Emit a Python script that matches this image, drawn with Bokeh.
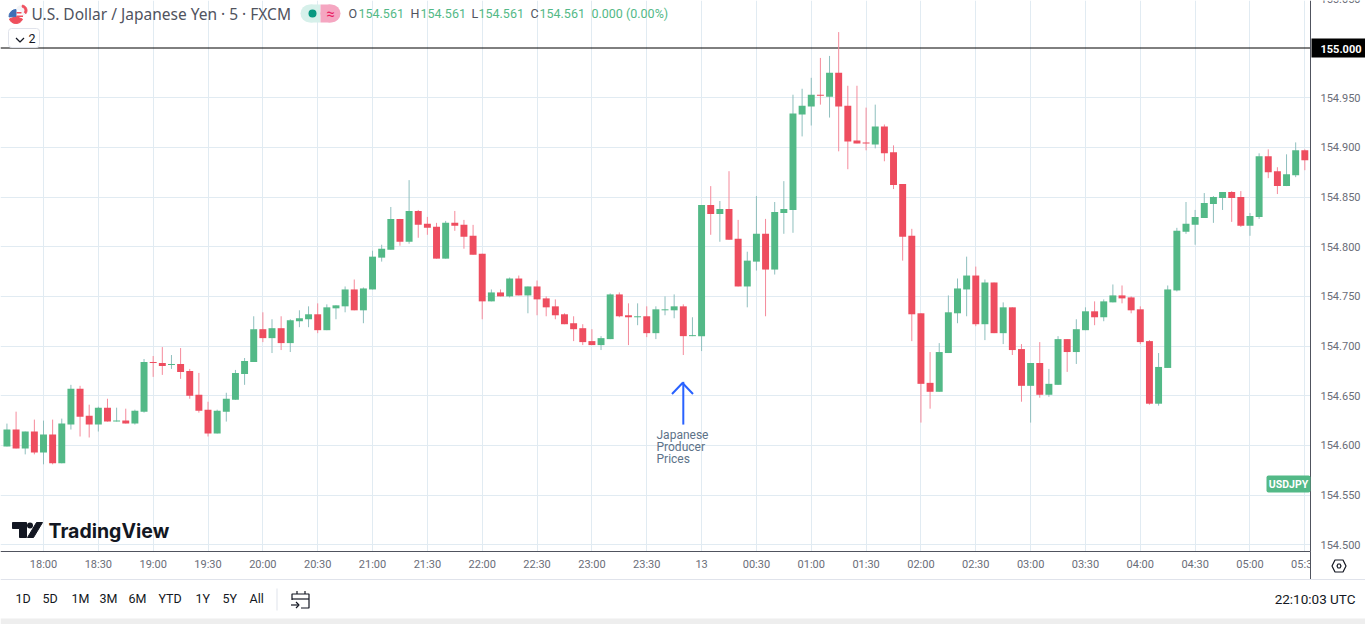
from bokeh.plotting import figure
from bokeh.embed import file_html
from bokeh.resources import INLINE
from bokeh.models import Arrow, BoxAnnotation, FixedTicker, Grid, Label, LinearAxis, PolyAnnotation, Range1d

# 5 minute USD/JPY candles, 0 is the 18:00 bar
bars = list(range(-4, 139))
opens = [154.599, 154.616, 154.597, 154.614, 154.593, 154.611, 154.582, 154.621, 154.657, 154.630, 154.621, 154.638, 154.624, 154.625, 154.622,
         154.634, 154.684, 154.683, 154.681, 154.682, 154.675, 154.651, 154.636, 154.612, 154.634, 154.646, 154.672, 154.684, 154.717, 154.708,
         154.718, 154.703, 154.725, 154.727, 154.732, 154.716, 154.738, 154.740, 154.757, 154.736, 154.757, 154.789, 154.797, 154.828, 154.805,
         154.836, 154.823, 154.820, 154.788, 154.824, 154.822, 154.811, 154.793, 154.745, 154.754, 154.750, 154.768, 154.751, 154.760, 154.748,
         154.740, 154.732, 154.723, 154.718, 154.705, 154.701, 154.707, 154.752, 154.731, 154.729, 154.730, 154.713, 154.736, 154.736, 154.740,
         154.710, 154.710, 154.842, 154.833, 154.838, 154.808, 154.760, 154.785, 154.813, 154.777, 154.834, 154.837, 154.933, 154.941, 154.953,
         154.951, 154.975, 154.942, 154.907, 154.905, 154.903, 154.921, 154.895, 154.863, 154.811, 154.733, 154.663, 154.654, 154.693, 154.733,
         154.757, 154.771, 154.722, 154.764, 154.713, 154.739, 154.697, 154.660, 154.683, 154.651, 154.661, 154.707, 154.694, 154.716, 154.735,
         154.729, 154.744, 154.751, 154.749, 154.737, 154.705, 154.642, 154.678, 154.756, 154.815, 154.822, 154.829, 154.843, 154.849, 154.855,
         154.850, 154.821, 154.830, 154.891, 154.876, 154.861, 154.872, 154.897]
highs = [154.622, 154.634, 154.614, 154.626, 154.625, 154.626, 154.627, 154.661, 154.660, 154.641, 154.639, 154.647, 154.638, 154.637, 154.636,
         154.687, 154.690, 154.699, 154.691, 154.698, 154.677, 154.673, 154.644, 154.636, 154.653, 154.676, 154.688, 154.730, 154.734, 154.727,
         154.730, 154.727, 154.736, 154.740, 154.743, 154.742, 154.741, 154.760, 154.767, 154.759, 154.796, 154.802, 154.840, 154.828, 154.867,
         154.837, 154.830, 154.824, 154.826, 154.836, 154.827, 154.822, 154.793, 154.757, 154.757, 154.769, 154.771, 154.760, 154.766, 154.750,
         154.747, 154.733, 154.730, 154.722, 154.717, 154.710, 154.753, 154.754, 154.743, 154.743, 154.740, 154.740, 154.750, 154.752, 154.742,
         154.729, 154.842, 154.861, 154.846, 154.876, 154.827, 154.795, 154.851, 154.828, 154.845, 154.866, 154.953, 154.959, 154.970, 154.990,
         154.992, 155.016, 154.962, 154.962, 154.940, 154.943, 154.923, 154.902, 154.863, 154.818, 154.733, 154.694, 154.703, 154.751, 154.768,
         154.790, 154.780, 154.767, 154.764, 154.744, 154.739, 154.702, 154.683, 154.704, 154.677, 154.710, 154.707, 154.727, 154.739, 154.745,
         154.747, 154.762, 154.761, 154.750, 154.740, 154.706, 154.693, 154.761, 154.819, 154.845, 154.837, 154.854, 154.851, 154.855, 154.856,
         154.856, 154.834, 154.894, 154.898, 154.880, 154.893, 154.905, 154.898]
lows = [154.599, 154.597, 154.591, 154.591, 154.581, 154.581, 154.582, 154.616, 154.609, 154.608, 154.614, 154.624, 154.624, 154.622, 154.621,
        154.633, 154.669, 154.671, 154.677, 154.667, 154.647, 154.633, 154.609, 154.612, 154.624, 154.646, 154.661, 154.684, 154.704, 154.693,
        154.696, 154.694, 154.719, 154.719, 154.713, 154.716, 154.727, 154.734, 154.736, 154.723, 154.757, 154.785, 154.797, 154.801, 154.803,
        154.809, 154.812, 154.788, 154.788, 154.816, 154.798, 154.792, 154.727, 154.745, 154.750, 154.749, 154.751, 154.733, 154.731, 154.730,
        154.727, 154.722, 154.705, 154.701, 154.701, 154.696, 154.707, 154.729, 154.701, 154.721, 154.709, 154.707, 154.731, 154.728, 154.691,
        154.710, 154.695, 154.812, 154.805, 154.807, 154.760, 154.739, 154.776, 154.730, 154.772, 154.813, 154.814, 154.911, 154.922, 154.943,
        154.930, 154.896, 154.878, 154.904, 154.897, 154.899, 154.886, 154.858, 154.786, 154.705, 154.623, 154.637, 154.654, 154.693, 154.723,
        154.730, 154.720, 154.706, 154.713, 154.702, 154.691, 154.644, 154.623, 154.648, 154.649, 154.661, 154.674, 154.682, 154.716, 154.721,
        154.725, 154.744, 154.743, 154.733, 154.702, 154.641, 154.640, 154.678, 154.755, 154.813, 154.802, 154.829, 154.824, 154.837, 154.825,
        154.820, 154.811, 154.828, 154.869, 154.853, 154.861, 154.870, 154.877]
closes = [154.616, 154.597, 154.614, 154.593, 154.611, 154.582, 154.622, 154.657, 154.629, 154.621, 154.638, 154.624, 154.625, 154.622, 154.635,
          154.684, 154.683, 154.680, 154.682, 154.674, 154.650, 154.635, 154.612, 154.635, 154.647, 154.673, 154.685, 154.717, 154.708, 154.718,
          154.703, 154.726, 154.728, 154.732, 154.716, 154.739, 154.741, 154.757, 154.736, 154.758, 154.790, 154.798, 154.828, 154.805, 154.836,
          154.822, 154.819, 154.788, 154.824, 154.821, 154.810, 154.792, 154.745, 154.754, 154.750, 154.768, 154.751, 154.760, 154.747, 154.739,
          154.731, 154.722, 154.717, 154.704, 154.701, 154.708, 154.752, 154.730, 154.729, 154.730, 154.713, 154.737, 154.737, 154.740, 154.710,
          154.711, 154.842, 154.833, 154.838, 154.807, 154.760, 154.786, 154.813, 154.777, 154.835, 154.838, 154.934, 154.942, 154.953, 154.952,
          154.975, 154.941, 154.906, 154.904, 154.904, 154.921, 154.894, 154.862, 154.810, 154.732, 154.662, 154.654, 154.694, 154.734, 154.758,
          154.771, 154.722, 154.764, 154.713, 154.739, 154.696, 154.660, 154.683, 154.651, 154.662, 154.707, 154.694, 154.717, 154.735, 154.729,
          154.745, 154.751, 154.748, 154.736, 154.704, 154.642, 154.679, 154.757, 154.816, 154.823, 154.830, 154.844, 154.850, 154.855, 154.849,
          154.821, 154.831, 154.891, 154.875, 154.861, 154.873, 154.897, 154.887]

time_ticks = list(range(0, 139, 6))
time_labels = ["18:00", "18:30", "19:00", "19:30", "20:00", "20:30", "21:00", "21:30", "22:00", "22:30", "23:00", "23:30",
               "13", "00:30", "01:00", "01:30", "02:00", "02:30", "03:00", "03:30", "04:00", "04:30", "05:00", "05:30"]
price_ticks = [154.5, 154.55, 154.6, 154.65, 154.7, 154.75, 154.8, 154.85, 154.9, 154.95]
ranges = ["1D", "5D", "1M", "3M", "6M", "YTD", "1Y", "5Y", "All"]
range_x = [15, 42, 71, 99, 128, 158, 195, 222, 249]
level_price = 155.0

UP = "#53b987"
DOWN = "#ee4d5f"
UP_WICK = "#8fbfbe"
DOWN_WICK = "#f58a9b"
GRID = "#e1ebf2"
AXIS = "#50535e"
BLUE = "#2962ff"
FONT = "Roboto"
TITLE_FONT = "Noto Sans"

W, H = 1365, 624
PANE_R, PANE_B = 1310, 551  # where the price and time scales start
X0, X1 = -43 / 9.14, (W - 43) / 9.14
Y0, Y1 = 155 - (H - 47.5) / 993.6, 155 + 47.5 / 993.6


def dx(x):
    return X0 + x / W * (X1 - X0)


def dy(y):
    return Y0 + (H - y) / H * (Y1 - Y0)


# the frame fills the page, annotations outside it would get clipped
p = figure(width=W, height=H, frame_width=W, frame_height=H, x_range=Range1d(X0, X1), y_range=Range1d(Y0, Y1),
           x_axis_location=None, y_axis_location=None, output_backend="svg", toolbar_location=None,
           min_border=0)
p.outline_line_color = None
p.grid.visible = False
p.add_layout(Grid(dimension=0, ticker=FixedTicker(ticks=time_ticks), grid_line_color=GRID))
p.add_layout(Grid(dimension=1, ticker=FixedTicker(ticks=price_ticks), grid_line_color=GRID))


def box(x0, y0, x1, y1, fill, line=None, radius=0, level="annotation"):
    p.add_layout(BoxAnnotation(left=x0, right=x1, top=H - y0, bottom=H - y1,
                               left_units="screen", right_units="screen", top_units="screen", bottom_units="screen",
                               fill_color=fill, fill_alpha=1, line_color=line, line_alpha=1, border_radius=radius,
                               level=level))


# white panes under the scales, hide the grid ends
box(PANE_R, 0, W, H, "#ffffff", level="underlay")
box(0, PANE_B, W, H, "#ffffff", level="underlay")

xaxis = LinearAxis(fixed_location=dy(PANE_B), ticker=FixedTicker(ticks=time_ticks), bounds=(dx(0), dx(PANE_R)),
                   major_label_overrides=dict(zip(time_ticks, time_labels)), major_label_standoff=0)
yaxis = LinearAxis(fixed_location=dx(PANE_R), ticker=FixedTicker(ticks=price_ticks), bounds=(dy(PANE_B), dy(0)),
                   major_label_overrides={t: f"{t:.3f}" for t in price_ticks}, major_label_standoff=4)
for ax, side in ((xaxis, "below"), (yaxis, "right")):
    ax.axis_line_color = AXIS
    ax.major_tick_line_color = None
    ax.minor_tick_line_color = None
    ax.major_label_text_color = "#6a6d78"
    ax.major_label_text_font = FONT
    ax.major_label_text_font_size = "11px"
    p.add_layout(ax, side)

# the 155.000 level line, then the candles
p.segment([dx(0)], [level_price], [dx(PANE_R)], [level_price], line_color="black", line_width=1)
wick_colors = [UP_WICK if c >= o else DOWN_WICK for o, c in zip(opens, closes)]
body_colors = [UP if c >= o else DOWN for o, c in zip(opens, closes)]
p.segment(bars, highs, bars, lows, line_color=wick_colors, line_width=1)
p.vbar(x=bars, top=[max(a, b) for a, b in zip(opens, closes)], bottom=[min(a, b) for a, b in zip(opens, closes)],
       width=0.76, fill_color=body_colors, line_color=None)


def text(x, y, s, size=12.5, color="#131722", font=FONT, style="normal", align="left"):
    p.add_layout(Label(x=x, y=H - y, x_units="screen", y_units="screen", text=s, text_font=font,
                       text_font_size=f"{size}px", text_font_style=style, text_color=color, text_align=align,
                       text_baseline="middle"))


def stroke(points, color="#131722", closed=False, width=1.2):
    path = points if closed else points + points[-2:0:-1]
    p.add_layout(PolyAnnotation(xs=[a + 0.5 for a, b in path], ys=[H - b - 0.5 for a, b in path],
                                xs_units="screen", ys_units="screen", fill_alpha=0, line_color=color, line_alpha=1,
                                line_width=width))


# event note
p.add_layout(Arrow(end=None, x_start=70, y_start=154.621, x_end=70, y_end=154.664, line_color=BLUE, line_width=2))
stroke([(671, 393), (681.5, 382), (692, 393)], color=BLUE, width=2)
for yy, word in zip([434, 446, 458], ["Japanese", "Producer", "Prices"]):
    text(656, yy, word, size=12, color="#5d7288")

# legend row
p.scatter([dx(21)], [dy(10)], size=11, fill_color="#f3f4f7", line_color=None)
p.annular_wedge([dx(21)], [dy(10)], inner_radius=3.5, outer_radius=5.5, inner_radius_units="screen",
                outer_radius_units="screen", start_angle=-0.6, end_angle=1.4, color="#f0505f")
p.scatter([dx(15.5)], [dy(16)], size=14, fill_color="#ffffff", line_color=None)
p.wedge([dx(15.5)], [dy(16)], radius=7, radius_units="screen", start_angle=3.5, end_angle=5.9, color="#ef4f5c")
p.wedge([dx(15.5)], [dy(16)], radius=7, radius_units="screen", start_angle=1.57, end_angle=3.2, color="#3f6fb5")
box(16, 11.5, 21, 13, "#ef4f5c")
box(16, 15, 22.5, 16.5, "#ef4f5c")
text(31, 13, "U.S. Dollar / Japanese Yen · 5 · FXCM", size=15.5, color="#50535e", font=TITLE_FONT)
box(300, 4, 320, 22, "#d6f0ea", radius=9)
box(310, 4, 320, 22, "#d6f0ea")
box(320, 4, 340, 22, "#f5a6c1", radius=9)
box(320, 4, 330, 22, "#f5a6c1")
box(308, 9, 316, 17, "#089981", radius=4)
text(330, 13, "≈", size=15, color="#e91e63", align="center")
for xx, letter, vx in [(348, "O", 358), (410, "H", 420), (471, "L", 478), (530, "C", 539)]:
    text(xx, 13, letter, color="#50535e")
    text(vx, 13, "154.561", color=UP)
text(591, 13, "0.000 (0.00%)", color=UP)

box(8, 28, 39, 47, "#ffffff", line="#e0e3eb", radius=3)
stroke([(15, 37), (19, 41), (23, 37)])
text(28, 38, "2", size=12.5)

# logo
p.patch([dx(a) for a in [12, 26, 26, 19, 19, 12]], [dy(b) for b in [522, 522, 537, 537, 528, 528]], color="#131722")
p.scatter([dx(29.5)], [dy(525)], size=6, fill_color="#131722", line_color=None)
p.patch([dx(a) for a in [36, 42, 33, 27]], [dy(b) for b in [522, 522, 537, 537]], color="#131722")
text(48, 530, "TradingView", size=19.5, font="Inter", style="bold")

# right price scale extras
text(1320, -2, "155.050", size=11, color="#6a6d78")
box(1311, 38, 1365, 57, "#000000")
text(1320, 48, "155.000", size=11, color="#ffffff", style="bold")
box(1266, 475, 1310, 492, UP, radius=2)
text(1288, 484, "USDJPY", size=10.5, color="#ffffff", style="bold", align="center")

# hides the end of the last time label, and carries the settings button
box(1310.5, 552, 1365, 578, "#ffffff")
box(1309.5, 551, 1310.5, 579, AXIS)
stroke([(1331, 565), (1334, 559), (1342, 559), (1345, 565), (1342, 571), (1334, 571)], closed=True)
stroke([(1336, 565), (1337, 563), (1339, 563), (1340, 565), (1339, 567), (1337, 567)], closed=True)

# bottom bar
box(0, 578.5, W, 579.5, "#e0e3eb")
box(0, 618, W, H, "#eeeeee")
for xx, word in zip(range_x, ranges):
    text(xx, 598, word, size=12.5)
box(276, 588, 277, 610, "#e0e3eb")
stroke([(296, 593), (296, 590)])
stroke([(304, 593), (304, 590)])
stroke([(291, 599), (291, 593), (308, 593), (308, 607), (300, 607)])
stroke([(291, 598), (308, 598)])
stroke([(290, 604), (298, 604)])
stroke([(295, 601), (298, 604), (295, 607)])
text(1355, 598, "22:10:03 UTC", size=13.5, align="right")

open("out.html", "w").write(file_html(p, INLINE))
